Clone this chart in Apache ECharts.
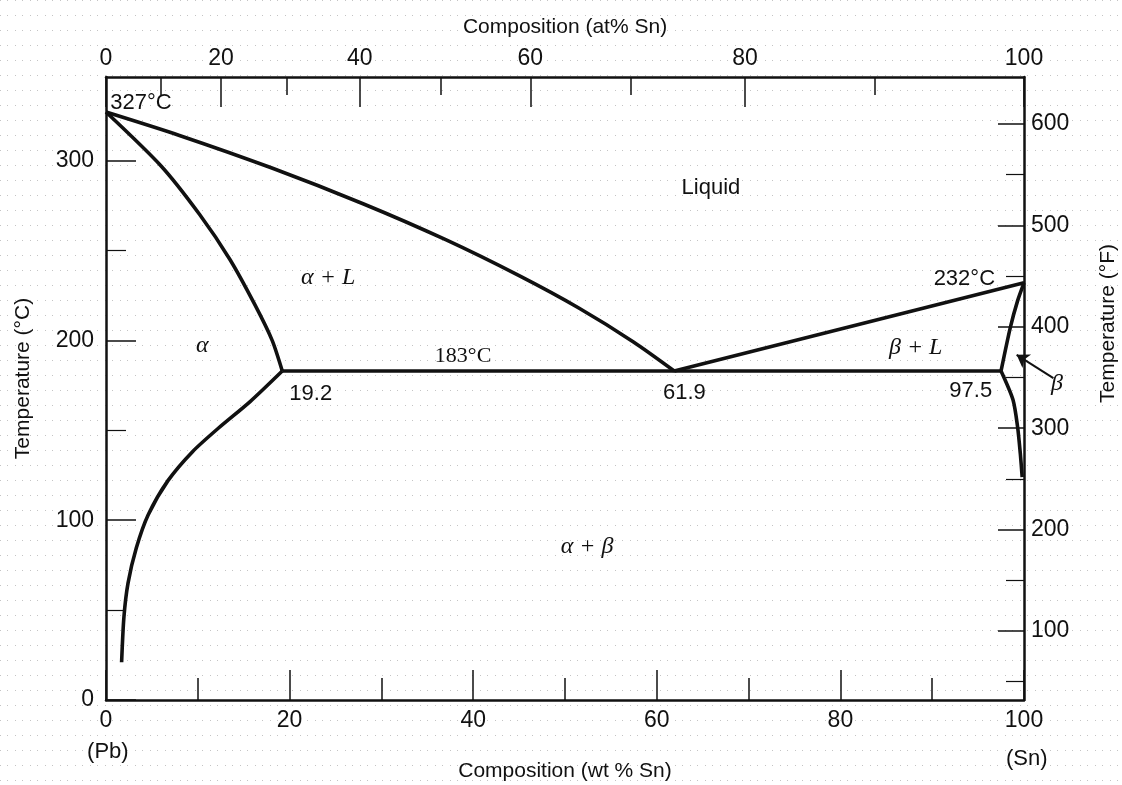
<!DOCTYPE html>
<html>
<head>
<meta charset="utf-8">
<script src="https://cdn.jsdelivr.net/npm/echarts@6/dist/echarts.min.js"></script>
<style>
html,body{margin:0;padding:0;background:#fff;}
#chart{width:1122px;height:785px;}
</style>
</head>
<body>
<div id="chart"></div>
<script>
// ---------- DATA ----------
// Phase boundaries: [wt% Sn, temperature °C]
const liquidusPb = [[0,327],[8,314],[18,296],[28,276],[37,256],[45,236],[51.5,218],[57.5,199],[61.9,183]];
const solidusPb  = [[0,327],[6.0,297],[10.2,270],[13.5,245],[16.2,220],[18.1,200],[19.2,183]];
const solvusPb   = [[19.2,183],[15.7,166],[12.2,151],[9.4,138],[6.75,122],[4.6,103],[3.3,84.5],[2.4,65],[1.95,46],[1.7,21]];
const eutectic   = [[19.2,183],[61.9,183],[97.5,183]];
const liquidusSn = [[61.9,183],[100,232]];
const solidusSn  = [[97.5,183],[98.5,207],[99.3,222],[100,232]];
const solvusSn   = [[97.5,183],[98.8,167],[99.3,152],[99.6,137],[99.8,124]];

// Axis ticks
const wtTicks      = [0,20,40,60,80,100];
const atMajorTicks = [0,20,40,60,80,100];
const atMinorTicks = [10,30,50,70,90];
const tempCTicks   = [0,100,200,300];
const tempCMinor   = [50,150,250];
const tempFTicks   = [100,200,300,400,500,600];
const tempFMinor   = [50,150,250,350,450,550];

// Annotations: text and anchor [wt% Sn, °C]
const annoText = ['327°C','Liquid','α + L','α','183°C','19.2','61.9','97.5','232°C','β + L','β','α + β','(Pb)','(Sn)'];
const annoAt   = [[3.8,332],[65.9,285],[24.2,235],[10.5,197],[38.9,191],[22.3,170],[63.0,171],[94.2,172],[93.5,234],[88.2,196],[103.6,176],[52.4,85],[0.2,-29],[100.3,-33]];
const arrowBeta = [[103.2,179],[99.2,192]];

// Atomic masses for the at% <-> wt% conversion of the top axis
const M_SN = 118.71, M_PB = 207.2;
function atToWt(a){ if(a>=100) return 100; const s=a*M_SN, p=(100-a)*M_PB; return 100*s/(s+p); }
function wtToAt(w){ if(w>=100) return 100; const s=w/M_SN, p=(100-w)/M_PB; return 100*s/(s+p); }

// ---------- STYLE ----------
const SANS = '"Liberation Sans", Arial, sans-serif';
const SERIF = '"Liberation Serif", "Times New Roman", serif';
const INK = '#111';
const serifItalic = new Set(['α + L','α','β + L','β','α + β']);
const serifUpright = new Set(['183°C']);

// dotted scan-paper texture
const pat = document.createElement('canvas');
pat.width = 15; pat.height = 15;
const pctx = pat.getContext('2d');
pctx.fillStyle = '#c4c4c4';
pctx.fillRect(0,0,1,1);
pctx.fillRect(7,0,1,1);

const chart = echarts.init(document.getElementById('chart'), null, {renderer:'canvas'});

const lineSeries = (data) => ({
  type:'line', data, xAxisIndex:0, yAxisIndex:0, showSymbol:false, symbol:'none',
  smooth:0.25, lineStyle:{color:INK, width:3.6}, silent:true, z:5
});

const axisLabelStyle = {color:INK, fontFamily:SANS, fontSize:23};
const nameStyle = {color:INK, fontFamily:SANS, fontSize:21};
const gridBox = {left:106, right:98, top:77, bottom:85, containLabel:false, outerBoundsMode:'none'};
const C_MIN = 0, C_MAX = 346.5, F_MIN = 32, F_MAX = 646.4;

const option = {
  animation:false,
  backgroundColor:{image:pat, repeat:'repeat'},
  grid:[Object.assign({}, gridBox), Object.assign({}, gridBox)],
  xAxis:[
    { // bottom wt% axis
      gridIndex:0, type:'value', position:'bottom', min:0, max:100, interval:20,
      name:'Composition (wt % Sn)', nameLocation:'middle', nameGap:61, nameMoveOverlap:false,
      nameTextStyle:nameStyle,
      axisLine:{onZero:false, lineStyle:{color:INK, width:2.5}},
      axisTick:{inside:true, length:30, lineStyle:{color:INK, width:1.5}},
      minorTick:{show:true, splitNumber:2, length:22, lineStyle:{color:INK, width:1.5}},
      axisLabel:{...axisLabelStyle, margin:9},
      splitLine:{show:false}, minorSplitLine:{show:false}
    },
    { // top at% axis, major ticks
      gridIndex:0, type:'value', position:'top', min:0, max:100,
      name:'Composition (at% Sn)', nameLocation:'middle', nameGap:39, nameMoveOverlap:false,
      nameTextStyle:nameStyle,
      axisLine:{onZero:false, lineStyle:{color:INK, width:2.5}},
      axisTick:{inside:true, length:30, customValues:atMajorTicks.map(atToWt), lineStyle:{color:INK, width:1.5}},
      axisLabel:{...axisLabelStyle, margin:7, customValues:atMajorTicks.map(atToWt),
        formatter:(v)=> String(Math.round(wtToAt(v)))},
      splitLine:{show:false}
    },
    { // top at% axis, minor ticks (second grid, same box)
      gridIndex:1, type:'value', position:'top', min:0, max:100,
      axisLine:{show:false, onZero:false},
      axisTick:{inside:true, length:18, customValues:atMinorTicks.map(atToWt), lineStyle:{color:INK, width:1.5}},
      axisLabel:{show:false}, splitLine:{show:false}
    }
  ],
  yAxis:[
    { // left °C axis
      gridIndex:0, type:'value', position:'left', min:C_MIN, max:C_MAX,
      name:'Temperature (°C)', nameLocation:'middle', nameGap:72, nameRotate:90, nameMoveOverlap:false,
      nameTextStyle:Object.assign({padding:[0,0,0,20]}, nameStyle),
      axisLine:{onZero:false, lineStyle:{color:INK, width:2.5}},
      axisTick:{inside:true, length:30, customValues:tempCTicks, lineStyle:{color:INK, width:1.5}},
      axisLabel:{...axisLabelStyle, margin:12, customValues:tempCTicks},
      splitLine:{show:false}
    },
    { // right °F axis
      gridIndex:0, type:'value', position:'right', min:F_MIN, max:F_MAX,
      name:'Temperature (°F)', nameLocation:'middle', nameGap:74, nameRotate:90, nameMoveOverlap:false,
      nameTextStyle:Object.assign({padding:[0,0,0,130]}, nameStyle),
      axisLine:{onZero:false, lineStyle:{color:INK, width:2.5}},
      axisTick:{inside:true, length:26, customValues:tempFTicks, lineStyle:{color:INK, width:1.5}},
      axisLabel:{...axisLabelStyle, margin:7, customValues:tempFTicks},
      splitLine:{show:false}
    },
    { // left °C minor ticks (second grid)
      gridIndex:1, type:'value', position:'left', min:C_MIN, max:C_MAX,
      axisLine:{show:false, onZero:false},
      axisTick:{inside:true, length:20, customValues:tempCMinor, lineStyle:{color:INK, width:1.2}},
      axisLabel:{show:false}, splitLine:{show:false}
    },
    { // right °F minor ticks (second grid)
      gridIndex:1, type:'value', position:'right', min:F_MIN, max:F_MAX,
      axisLine:{show:false, onZero:false},
      axisTick:{inside:true, length:18, customValues:tempFMinor, lineStyle:{color:INK, width:1.2}},
      axisLabel:{show:false}, splitLine:{show:false}
    }
  ],
  series:[
    lineSeries(liquidusPb),
    lineSeries(solidusPb),
    lineSeries(solvusPb),
    Object.assign(lineSeries(eutectic), {smooth:false}),
    Object.assign(lineSeries(liquidusSn), {smooth:false}),
    lineSeries(solidusSn),
    lineSeries(solvusSn),
    {
      type:'scatter', xAxisIndex:0, yAxisIndex:0, symbolSize:0, clip:false, silent:true, z:10,
      itemStyle:{opacity:1},
      data: annoText.map((t,i)=>({
        value: annoAt[i], name:t,
        label:{
          show:true, position:'inside', formatter:'{b}', color:INK, opacity:1,
          fontFamily: (serifItalic.has(t)||serifUpright.has(t)) ? SERIF : SANS,
          fontStyle: serifItalic.has(t) ? 'italic' : 'normal',
          fontSize: serifItalic.has(t) ? 24 : 22
        }
      }))
    },
    {
      type:'lines', coordinateSystem:'cartesian2d', xAxisIndex:0, yAxisIndex:0, clip:false, silent:true,
      symbol:['none','arrow'], symbolSize:[0,12],
      lineStyle:{color:INK, width:2, opacity:1},
      data:[{coords:arrowBeta}], z:10
    }
  ]
};
chart.setOption(option);
</script>
</body>
</html>
